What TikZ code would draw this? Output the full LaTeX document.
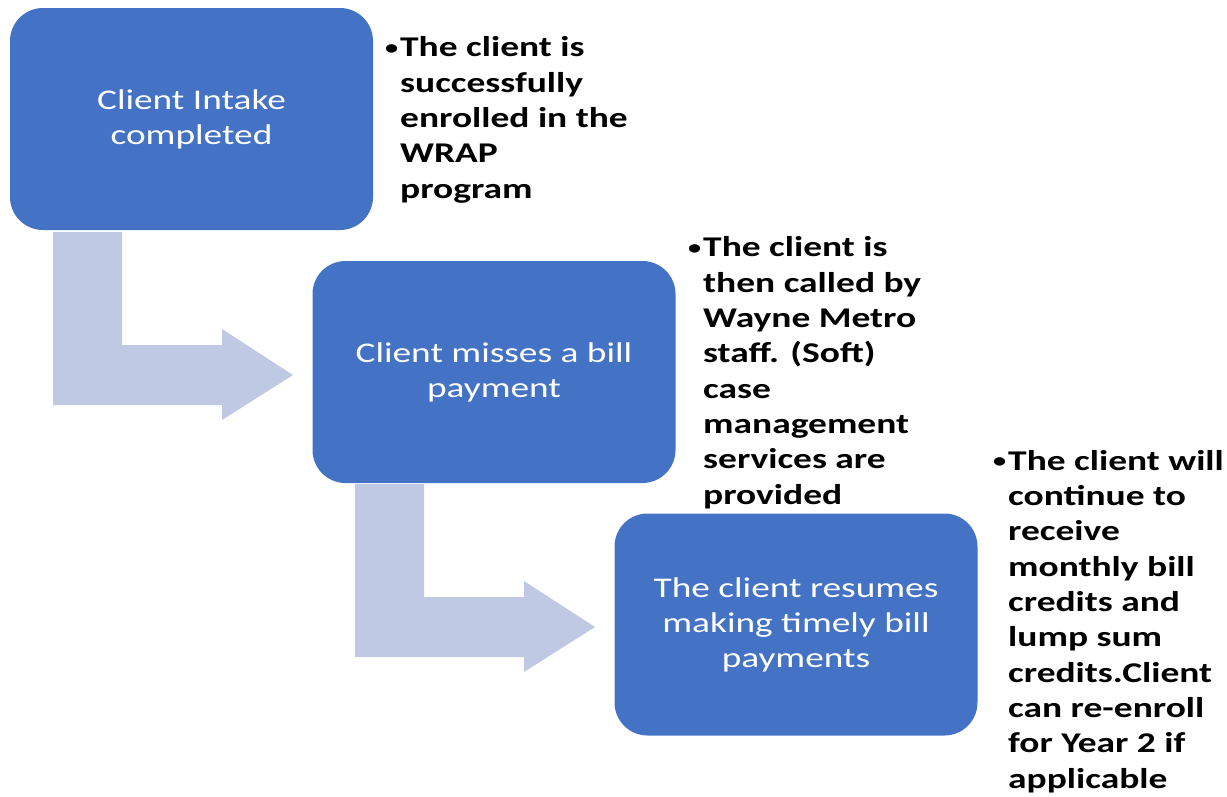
\documentclass[tikz,border=0pt]{standalone}
\usepackage{fontspec}
\setmainfont{Carlito}[FakeStretch=1.31]
\definecolor{boxblue}{RGB}{68,114,196}
\definecolor{arrowblue}{RGB}{191,201,228}
\newcommand{\notebullet}{\llap{\raisebox{2.5pt}{\fontsize{20}{20}\selectfont •}\hspace{2pt}}}
\begin{document}
\begin{tikzpicture}[x=1pt,y=-1pt,
  stepbox/.style={fill=boxblue, draw=none, rounded corners=33pt, text=white,
    minimum width=363pt, minimum height=222pt, align=center, inner sep=0pt,
    font=\fontsize{28.5}{35}\selectfont},
  note/.style={anchor=base west, align=left, inner sep=0pt, text=black,
    font=\fontsize{28.6}{35.3}\selectfont\bfseries},
  bentarrow/.style={fill=arrowblue, draw=none}]
\useasboundingbox (0,0) rectangle (1227,796);
% bent arrows
\fill[bentarrow] (53,232) -- (122,232) -- (122,345) -- (222,345) -- (222,329) -- (293,375) -- (222,420) -- (222,405) -- (53,405) -- cycle;
\fill[bentarrow] (355,484) -- (424,484) -- (424,597) -- (524,597) -- (524,581) -- (595,627) -- (524,672) -- (524,657) -- (355,657) -- cycle;
% boxes
\node[stepbox] (b1) at (191.5,119) {Client Intake\\completed};
\node[stepbox] (b2) at (494,372) {Client misses a bill\\payment};
\node[stepbox] (b3) at (796,624.5) {The client resumes\\making timely bill\\payments};
% notes (anchored at the baseline of the last line)
\node[note] (n1) at (400,198) {\notebullet The client is\\successfully\\enrolled in the\\WRAP\\program};
\node[note] (n2) at (703,504) {\notebullet The client is\\then called by\\Wayne Metro\\staff. (Soft)\\case\\management\\services are\\provided};
\node[note] (n3) at (1008,788) {\notebullet The client will\\continue to\\receive\\monthly bill\\credits and\\lump sum\\credits.Client\\can re-enroll\\for Year 2 if\\applicable};
\end{tikzpicture}
\end{document}
